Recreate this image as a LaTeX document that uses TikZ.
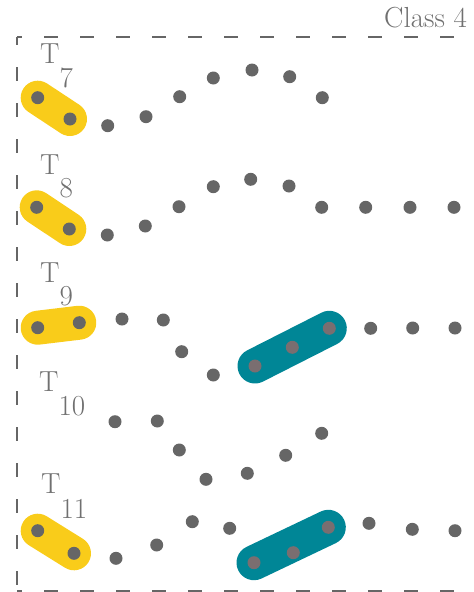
\documentclass[tikz,border=0pt]{standalone}
\usetikzlibrary{backgrounds}
\definecolor{dotgrey}{RGB}{102,102,102}
\definecolor{txtgrey}{RGB}{112,112,112}
\definecolor{pillyellow}{RGB}{249,204,26}
\definecolor{pillteal}{RGB}{0,134,150}
\definecolor{dotteal}{RGB}{122,110,112}
\begin{document}
\begin{tikzpicture}[x=1pt,y=-1pt,
 dot/.style={circle,fill=dotgrey,inner sep=0pt,minimum size=13pt},
 tdot/.style={dot,fill=dotteal},
 lbl/.style={text=txtgrey,font=\fontsize{29}{29}\selectfont,inner sep=0pt,anchor=base west},
 ypill/.style={line width=34pt,line cap=round,draw=pillyellow},
 tpill/.style={line width=35pt,line cap=round,draw=pillteal},
 frame/.style={draw=dotgrey,line width=2pt,dash pattern=on 14pt off 22pt}]
\useasboundingbox (0,0) rectangle (474,592);
\clip (0,0) rectangle (474,592);

% frame and title
\coordinate (ftl) at (17,37);
\coordinate (ftr) at (490,37);
\coordinate (fbl) at (17,591);
\coordinate (fbr) at (490,591);
\draw[frame,dash phase=9pt] (ftl) -- (ftr);
\draw[frame,dash phase=6pt] (ftl) -- (fbl);
\draw[frame,dash phase=9pt] (fbl) -- (fbr);
\node[lbl] (cls) at (384,27) {Class 4};

% labels
\node[lbl] (l7) at (40,63.3) {T\raisebox{-24pt}{7}};
\node[lbl] (l8) at (40,174) {T\raisebox{-23pt}{8}};
\node[lbl] (l9) at (40,282) {T\raisebox{-23pt}{9}};
\node[lbl] (l10) at (39,391.7) {T\raisebox{-23.5pt}{10}};
\node[lbl] (l11) at (41,493.3) {T\raisebox{-25pt}{11}};

% T7
\foreach [count=\i] \p in {(37.7,97.7),(70,119),(107.7,125.7),(146,116.7),(179.7,96.7),(213.3,78),(252,70),(289.7,76.7),(322.3,97.7)}
  \node[dot] (a\i) at \p {};
% T8
\foreach [count=\i] \p in {(36.7,207.3),(69.3,229),(107.3,235),(145.3,226),(179,206.7),(213.3,186.7),(250.7,179.3),(289,186),(321.7,207.3),(365.7,207.3),(410,207.3),(454,207.3)}
  \node[dot] (b\i) at \p {};
% T9
\foreach [count=\i] \p in {(37.7,327.7),(79.3,322.7),(122,319),(163.3,320),(181.7,351.7),(213.3,375)}
  \node[dot] (c\i) at \p {};
\foreach [count=\i from 7] \p in {(255,366),(292.3,347.3),(329.3,328.3)}
  \node[tdot] (c\i) at \p {};
\foreach [count=\i from 10] \p in {(370.7,328.3),(412.7,328),(455,328)}
  \node[dot] (c\i) at \p {};
% T10
\foreach [count=\i] \p in {(115,421.7),(157.3,421),(179.3,450),(206,479.3),(247.3,473.3),(285.7,455.3),(321.7,433.3)}
  \node[dot] (d\i) at \p {};
% T11
\foreach [count=\i] \p in {(37.7,530.7),(74,553.3),(116,558.3),(156.7,545),(192.3,521.7),(229.7,528.3)}
  \node[dot] (e\i) at \p {};
\foreach [count=\i from 7] \p in {(254,562.7),(293.3,552.7),(328.3,527.3)}
  \node[tdot] (e\i) at \p {};
\foreach [count=\i from 10] \p in {(369,523.3),(412.3,529.3),(455,530.7)}
  \node[dot] (e\i) at \p {};

% pills
\begin{pgfonlayer}{background}
  \draw[ypill] (a1.center) -- (a2.center);
  \draw[ypill] (b1.center) -- (b2.center);
  \draw[ypill] (c1.center) -- (c2.center);
  \draw[tpill] (c7.center) -- (c9.center);
  \draw[ypill] (e1.center) -- (e2.center);
  \draw[tpill] (e7.center) -- (e9.center);
\end{pgfonlayer}
\end{tikzpicture}
\end{document}
